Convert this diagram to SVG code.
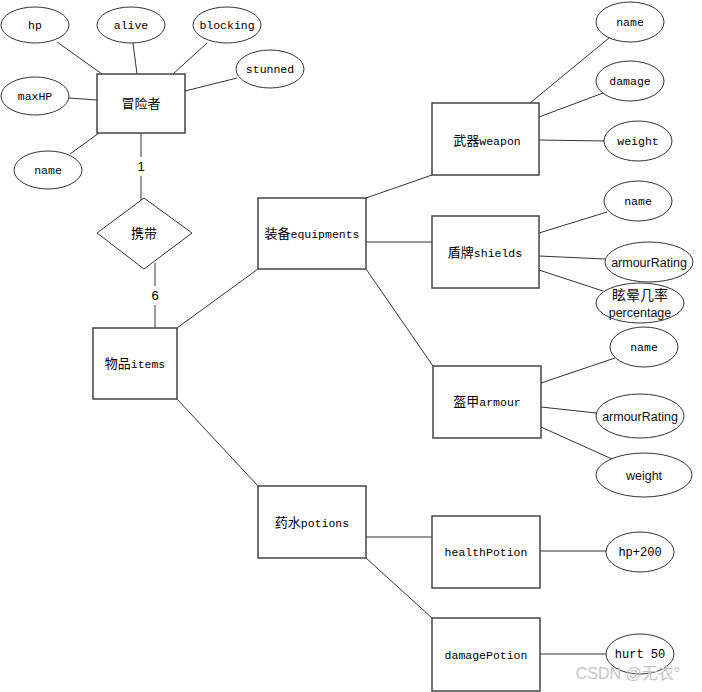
<svg xmlns="http://www.w3.org/2000/svg" width="702" height="692" viewBox="0 0 702 692">
<style>
.bg{fill:#fff}
rect.n{fill:#fff;stroke:#444;stroke-width:1.5}
ellipse{fill:#fff;stroke:#333;stroke-width:1}
polygon{fill:#fff;stroke:#333;stroke-width:1}
.c line{stroke:#333;stroke-width:1}
text{font-family:"Liberation Mono","Noto Sans CJK SC",monospace;font-size:11.5px;fill:#000;text-anchor:middle}
.cjk{font-family:"Noto Sans CJK SC",sans-serif;font-size:13px}
.sans{font-family:"Liberation Sans","Noto Sans CJK SC",sans-serif;font-size:12.5px;fill:#111}
.lbl{font-family:"Liberation Sans",sans-serif;font-size:13px}
.wm{font-family:"Liberation Sans","Noto Sans CJK SC",sans-serif;font-size:16px;fill:#c4c4c4}
</style>
<rect class="bg" x="0" y="0" width="702" height="692"/>
<g class="c" id="connectors">
<line x1="57" y1="42" x2="102" y2="74"/>
<line x1="133" y1="43" x2="137" y2="74"/>
<line x1="207" y1="43" x2="173" y2="74"/>
<line x1="237" y1="78" x2="185" y2="91"/>
<line x1="69" y1="98" x2="97" y2="100"/>
<line x1="70" y1="154" x2="99" y2="133"/>
<line x1="141" y1="133" x2="141" y2="157"/>
<line x1="141" y1="176" x2="141" y2="200"/>
<line x1="155" y1="263" x2="155" y2="286"/>
<line x1="155" y1="305" x2="155" y2="328"/>
<line x1="177" y1="328" x2="258" y2="269"/>
<line x1="177" y1="399" x2="258" y2="486"/>
<line x1="366" y1="198" x2="432" y2="175"/>
<line x1="366" y1="242" x2="432" y2="242"/>
<line x1="366" y1="269" x2="433" y2="366"/>
<line x1="609" y1="38" x2="530" y2="103"/>
<line x1="603" y1="93" x2="539" y2="117"/>
<line x1="539" y1="140" x2="605" y2="141"/>
<line x1="607" y1="212" x2="539" y2="233"/>
<line x1="539" y1="256" x2="605" y2="259"/>
<line x1="539" y1="270" x2="603" y2="291"/>
<line x1="615" y1="358" x2="541" y2="383"/>
<line x1="541" y1="407" x2="596" y2="413"/>
<line x1="541" y1="427" x2="612" y2="459"/>
<line x1="366" y1="537" x2="432" y2="537"/>
<line x1="366" y1="558" x2="432" y2="618"/>
<line x1="540" y1="551" x2="607" y2="551"/>
<line x1="540" y1="654" x2="607" y2="654"/>
<text class="lbl" x="141" y="171">1</text>
<text class="lbl" x="155" y="300">6</text>
</g>
<g id="adventurer"><rect class="n" x="97" y="74" width="88" height="59"/><text class="cjk" x="141" y="108">冒险者</text></g>
<g id="hp"><ellipse cx="35" cy="25" rx="34" ry="18"/><text x="35" y="29">hp</text></g>
<g id="alive"><ellipse cx="131" cy="25" rx="34" ry="18"/><text x="131" y="29">alive</text></g>
<g id="blocking"><ellipse cx="227" cy="25" rx="34" ry="18"/><text x="227" y="29">blocking</text></g>
<g id="stunned"><ellipse cx="270" cy="69" rx="34" ry="19"/><text x="270" y="73">stunned</text></g>
<g id="maxHP"><ellipse cx="35" cy="96" rx="34" ry="19"/><text x="35" y="100">maxHP</text></g>
<g id="name1"><ellipse cx="48" cy="170" rx="34" ry="19"/><text x="48" y="174">name</text></g>
<g id="carry"><polygon points="144,198 192,233 144,269 97,233"/><text class="cjk" x="144" y="238">携带</text></g>
<g id="items"><rect class="n" x="93" y="328" width="84" height="71"/><text x="135" y="368"><tspan class="cjk">物品</tspan>items</text></g>
<g id="equipments"><rect class="n" x="258" y="198" width="108" height="71"/><text x="312" y="238"><tspan class="cjk">装备</tspan>equipments</text></g>
<g id="weapon"><rect class="n" x="432" y="103" width="107" height="72"/><text x="487" y="145"><tspan class="cjk">武器</tspan>weapon</text></g>
<g id="w-name"><ellipse cx="630" cy="22" rx="34" ry="20"/><text x="630" y="26">name</text></g>
<g id="w-damage"><ellipse cx="630" cy="81" rx="34" ry="20"/><text x="630" y="85">damage</text></g>
<g id="w-weight"><ellipse cx="638" cy="141" rx="34" ry="20"/><text x="638" y="145">weight</text></g>
<g id="shields"><rect class="n" x="432" y="216" width="107" height="72"/><text x="485" y="257"><tspan class="cjk">盾牌</tspan>shields</text></g>
<g id="s-name"><ellipse cx="638" cy="201" rx="34" ry="20"/><text x="638" y="205">name</text></g>
<g id="s-rating"><ellipse cx="649" cy="262" rx="44" ry="20"/><text class="sans" x="649" y="267">armourRating</text></g>
<g id="s-pct"><ellipse cx="640" cy="303" rx="44" ry="20"/><text class="sans" x="640" y="300" style="font-family:'Noto Sans CJK SC',sans-serif;font-size:14px">眩晕几率</text><text class="sans" x="640" y="317">percentage</text></g>
<g id="armour"><rect class="n" x="433" y="366" width="108" height="72"/><text x="487" y="406"><tspan class="cjk">盔甲</tspan>armour</text></g>
<g id="a-name"><ellipse cx="644" cy="347" rx="34" ry="20"/><text x="644" y="351">name</text></g>
<g id="a-rating"><ellipse cx="640" cy="416" rx="44" ry="22"/><text class="sans" x="640" y="421">armourRating</text></g>
<g id="a-weight"><ellipse cx="644" cy="475" rx="48" ry="22"/><text class="sans" x="644" y="480">weight</text></g>
<g id="potions"><rect class="n" x="258" y="486" width="108" height="72"/><text x="312" y="527"><tspan class="cjk">药水</tspan>potions</text></g>
<g id="healthPotion"><rect class="n" x="432" y="516" width="108" height="72"/><text x="486" y="556">healthPotion</text></g>
<g id="hp200"><ellipse cx="640" cy="552" rx="34" ry="20"/><text x="640" y="556" style="font-size:12px">hp+200</text></g>
<g id="damagePotion"><rect class="n" x="432" y="618" width="108" height="73"/><text x="486" y="659">damagePotion</text></g>
<g id="hurt50"><ellipse cx="640" cy="654" rx="34" ry="20"/><text x="640" y="658" style="font-size:12px">hurt 50</text></g>
<text class="wm" x="628" y="679">CSDN @无衣°</text>
</svg>
